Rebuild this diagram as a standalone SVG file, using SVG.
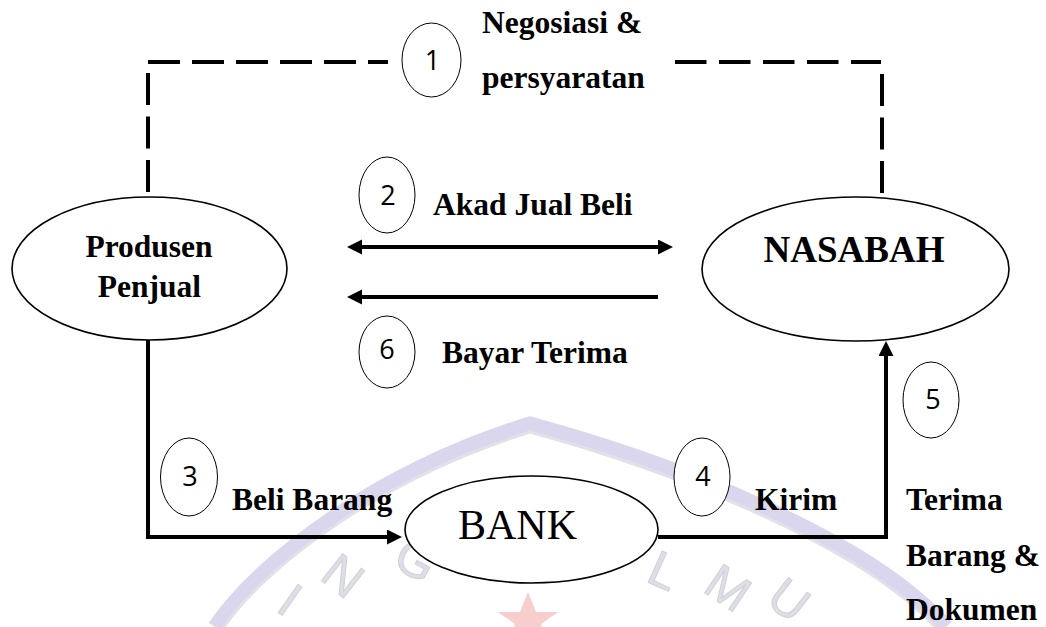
<svg xmlns="http://www.w3.org/2000/svg" width="1046" height="627" viewBox="0 0 1046 627">
<style>
.lbl{font-family:"Liberation Serif","Times New Roman",serif;font-weight:bold;font-size:31.5px;fill:#000}
.num{font-family:"Open Sans","Liberation Sans",sans-serif;font-size:27px;fill:#000;text-anchor:middle}
.node{fill:#fff;stroke:#000;stroke-width:1.6}
.badge{fill:#fff;stroke:#000;stroke-width:1}
.dash{fill:none;stroke:#000;stroke-width:4;stroke-dasharray:32 12}
.conn{fill:none;stroke:#000;stroke-width:4}
.wm{font-family:"Liberation Sans",sans-serif;font-size:50px;fill:#dedee6;stroke:#d0d0d9;stroke-width:1;text-anchor:middle}
</style>
<defs>
<marker id="ah" markerUnits="userSpaceOnUse" markerWidth="16" markerHeight="16" refX="3" refY="7.5" orient="auto-start-reverse">
<path d="M0,0 L15,7.5 L0,15 z" fill="#000"/>
</marker>
</defs>
<rect width="1046" height="627" fill="#fff"/>
<g id="watermark">
<path d="M215,627 C260,560 380,470 530,424 C680,465 870,540 946,627" fill="none" stroke="#d9d6ee" stroke-width="15"/>
<path d="M222,630 C267,563 386,477 530,432 C676,472 864,547 938,630" fill="none" stroke="#e2e1ea" stroke-width="3"/>
<text class="wm" transform="translate(290,600) rotate(35)" y="17">I</text>
<text class="wm" transform="translate(343,576) rotate(38)" y="17">N</text>
<text class="wm" transform="translate(416,560) rotate(28)" y="17">G</text>
<text class="wm" transform="translate(664,571) rotate(24)" y="17">L</text>
<text class="wm" transform="translate(728,588) rotate(34)" y="17">M</text>
<text class="wm" transform="translate(789,600) rotate(38)" y="17">U</text>
<path d="M528,592 L536,612 L558,612 L541,624 L546,640 L528,630 L510,640 L515,624 L498,612 L520,612 z" fill="#f5c6c6" opacity="0.85"/>
</g>
<g id="connectors">
<line class="dash" x1="148" y1="62" x2="388" y2="62"/>
<line class="dash" x1="148" y1="73" x2="148" y2="193" style="stroke-dasharray:32 11.5"/>
<line class="dash" x1="675" y1="62" x2="881" y2="62" style="stroke-dasharray:31.5 12.5"/>
<line class="dash" x1="882" y1="74" x2="882" y2="193" style="stroke-dasharray:32 11.5"/>
<line class="conn" x1="359" y1="247" x2="661" y2="247" marker-start="url(#ah)" marker-end="url(#ah)"/>
<line class="conn" x1="658" y1="297" x2="359" y2="297" marker-end="url(#ah)"/>
<path class="conn" d="M148,340 V537 H390" marker-end="url(#ah)"/>
<path class="conn" d="M658,537 H886 V353" marker-end="url(#ah)"/>
</g>
<g id="produsen">
<ellipse class="node" cx="149.5" cy="268.5" rx="137.5" ry="71.5"/>
<text class="lbl" x="149" y="257" text-anchor="middle">Produsen</text>
<text class="lbl" x="149.5" y="297" text-anchor="middle">Penjual</text>
</g>
<g id="nasabah">
<ellipse class="node" cx="855.5" cy="269" rx="153.5" ry="72"/>
<text class="lbl" x="854" y="262" text-anchor="middle" style="font-size:37px">NASABAH</text>
</g>
<g id="bank">
<ellipse class="node" cx="531.5" cy="529.5" rx="126.5" ry="53.5"/>
<text x="517.5" y="539" text-anchor="middle" style="font-family:'Liberation Serif','Times New Roman',serif;font-size:42px;fill:#000">BANK</text>
</g>
<g id="step1">
<ellipse class="badge" cx="431.5" cy="60" rx="29.5" ry="37"/>
<text class="num" x="432.5" y="70">1</text>
<text class="lbl" x="482" y="33">Negosiasi &amp;</text>
<text class="lbl" x="482" y="88">persyaratan</text>
</g>
<g id="step2">
<ellipse class="badge" cx="387" cy="195" rx="28" ry="38"/>
<text class="num" x="388" y="205">2</text>
<text class="lbl" x="433" y="215">Akad Jual Beli</text>
</g>
<g id="step6">
<ellipse class="badge" cx="387" cy="352" rx="28" ry="36"/>
<text class="num" x="387" y="359">6</text>
<text class="lbl" x="442" y="363">Bayar Terima</text>
</g>
<g id="step3">
<ellipse class="badge" cx="189" cy="477" rx="28.5" ry="39"/>
<text class="num" x="190" y="486">3</text>
<text class="lbl" x="232" y="510">Beli Barang</text>
</g>
<g id="step4">
<ellipse class="badge" cx="702" cy="477" rx="28" ry="39"/>
<text class="num" x="703" y="486">4</text>
<text class="lbl" x="755" y="510">Kirim</text>
</g>
<g id="step5">
<ellipse class="badge" cx="931" cy="400" rx="28" ry="38"/>
<text class="num" x="933" y="409">5</text>
<text class="lbl" x="906" y="510">Terima</text>
<text class="lbl" x="906" y="566">Barang &amp;</text>
<text class="lbl" x="906" y="620">Dokumen</text>
</g>
</svg>
